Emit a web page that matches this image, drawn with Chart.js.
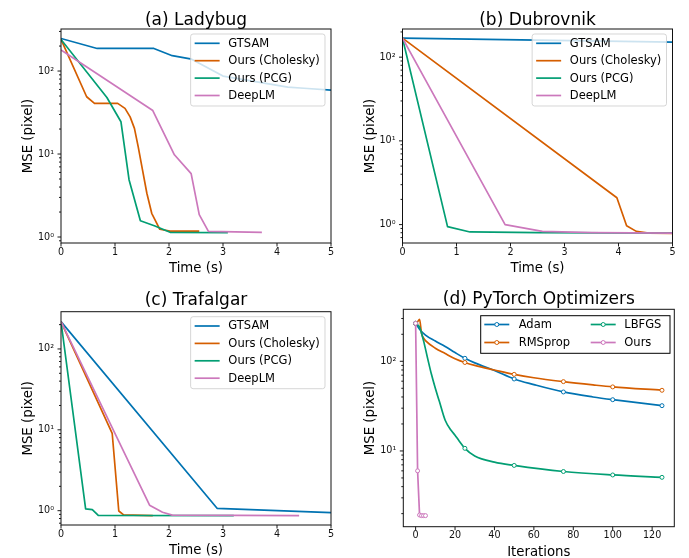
<!DOCTYPE html>
<html><head><meta charset="utf-8">
<script src="https://cdn.jsdelivr.net/npm/chart.js@4"></script>
<style>
html,body{margin:0;padding:0;background:#fff;}
#wrap{position:relative;width:689px;height:558px;overflow:hidden;background:#fff;}
canvas{position:absolute;left:0;top:0;}
</style></head><body><div id="wrap">
<canvas id="ca" width="689" height="558"></canvas>
<canvas id="cb" width="689" height="558"></canvas>
<canvas id="cc" width="689" height="558"></canvas>
<canvas id="cd" width="689" height="558"></canvas>
</div>
<script>
// ---------------- data ----------------
const timeTicks = [0, 1, 2, 3, 4, 5];
const timeTickLabels = ['0', '1', '2', '3', '4', '5'];
const iterTicks = [0, 20, 40, 60, 80, 100, 120];
const iterTickLabels = ['0', '20', '40', '60', '80', '100', '120'];
const logMajorTicks = [1, 10, 100];
const logTickLabels = ['10⁰', '10¹', '10²'];
const methodNames = ['GTSAM', 'Ours (Cholesky)', 'Ours (PCG)', 'DeepLM'];
const optimizerNames = ['Adam', 'RMSprop', 'LBFGS', 'Ours'];

// (a) Ladybug  [time (s), MSE]
const ladybugGTSAM = [[0,247],[0.67,187],[1.72,187],[2.06,153],[2.42,139],[3.0,87],[4.2,64],[4.5,62],[5,59],[5.3,58]];
const ladybugCholesky = [[0,241],[0.475,49],[0.62,40.8],[1.05,40.8],[1.185,35.5],[1.28,28],[1.36,20.4],[1.43,12.2],[1.51,6.4],[1.59,3.37],[1.68,1.93],[1.83,1.24],[2.02,1.18],[2.56,1.18]];
const ladybugPCG = [[0,240],[0.85,48],[1.11,24.5],[1.26,4.9],[1.47,1.57],[1.74,1.36],[2.02,1.14],[3.09,1.13]];
const ladybugDeepLM = [[0,179],[1.70,33.4],[2.10,9.8],[2.41,5.8],[2.56,1.86],[2.73,1.17],[3.72,1.14]];

// (b) Dubrovnik
const dubrovnikGTSAM = [[0,169],[2.5,160],[5,151],[5.3,150]];
const dubrovnikCholesky = [[0,169],[3.97,2.09],[4.15,0.97],[4.33,0.83],[4.56,0.79],[5,0.785]];
const dubrovnikPCG = [[0,169],[0.834,0.946],[1.25,0.817],[2.5,0.80],[5,0.79]];
const dubrovnikDeepLM = [[0,169],[1.90,1.0],[2.59,0.83],[3.5,0.80],[5,0.79]];

// (c) Trafalgar
const trafalgarGTSAM = [[0,218],[2.89,1.07],[5,0.944],[5.3,0.93]];
const trafalgarCholesky = [[0,218],[0.948,9.06],[1.07,0.99],[1.16,0.885],[1.70,0.87]];
const trafalgarPCG = [[0,218],[0.456,1.05],[0.58,1.03],[0.69,0.875],[3.2,0.87]];
const trafalgarDeepLM = [[0,218],[1.64,1.17],[1.88,0.955],[2.06,0.88],[4.41,0.87]];

// (d) PyTorch optimizers  [iteration, MSE]
const adamMSE = [[0,265],[2,228],[5,196],[10,168],[15,146],[20,125],[25,108],[30,96],[40,79],[50,63.5],[60,55],[75,45.5],[90,40],[100,37.3],[125,32]];
const rmspropMSE = [[0,265],[1,275],[2,294],[3,205],[4,182],[5,170],[10,140],[15,122],[20,107],[25,97],[30,90],[40,80],[50,71.5],[60,65.5],[75,59.3],[90,54.5],[100,51.8],[125,47.5]];
const lbfgsMSE = [[0,265],[2,240],[4,170],[6,110],[8,72],[10,50],[12,36],[15,22],[18,17],[20,15],[22,13],[25,10.7],[30,8.8],[40,7.5],[50,6.9],[75,5.9],[100,5.4],[125,5.08]];
const oursMSE = [[0,265],[1,6],[2,1.93],[3,1.9],[4,1.9],[5,1.9]];

// ---------------- styling / layout ----------------
const W = 689, H = 558;
const FAM = '"DejaVu Sans", "Liberation Sans", sans-serif';
const seriesColors = ['#0173B2', '#D55E00', '#029E73', '#CC78BC'];

const panels = [
  { id: 'ca', title: '(a) Ladybug', xLabel: 'Time (s)', area: {L: 61, T: 29, R: 331, B: 243}, titleOff: 4.5,
    xMin: 0, xMax: 5, yMin: 0.847, yMax: 321, xTicks: timeTicks, xTickLabels: timeTickLabels,
    series: [ladybugGTSAM, ladybugCholesky, ladybugPCG, ladybugDeepLM], names: methodNames, legend: 'single' },
  { id: 'cb', title: '(b) Dubrovnik', xLabel: 'Time (s)', area: {L: 402.5, T: 29, R: 672.5, B: 243}, titleOff: 4.5,
    xMin: 0, xMax: 5, yMin: 0.603, yMax: 217, xTicks: timeTicks, xTickLabels: timeTickLabels,
    series: [dubrovnikGTSAM, dubrovnikCholesky, dubrovnikPCG, dubrovnikDeepLM], names: methodNames, legend: 'single' },
  { id: 'cc', title: '(c) Trafalgar', xLabel: 'Time (s)', area: {L: 61, T: 311.7, R: 331, B: 525}, titleOff: 7.2,
    xMin: 0, xMax: 5, yMin: 0.665, yMax: 289, xTicks: timeTicks, xTickLabels: timeTickLabels,
    series: [trafalgarGTSAM, trafalgarCholesky, trafalgarPCG, trafalgarDeepLM], names: methodNames, legend: 'single' },
  { id: 'cd', title: '(d) PyTorch Optimizers', xLabel: 'Iterations', area: {L: 403.3, T: 309.3, R: 674.3, B: 526.7}, titleOff: 5.5,
    xMin: -6.25, xMax: 131.25, yMin: 1.43, yMax: 380, xTicks: iterTicks, xTickLabels: iterTickLabels,
    series: [adamMSE, rmspropMSE, lbfgsMSE, oursMSE], names: optimizerNames, legend: 'double',
    markEvery: [25, 25, 25, 1], smooth: [true, true, true, false] }
];

function logTickList(min, max) {
  const out = [];
  for (let e = -1; e <= 3; e++) {
    for (let m = 1; m < 10; m++) {
      const v = parseFloat((m * Math.pow(10, e)).toPrecision(6));
      if (v >= min && v <= max) out.push(v);
    }
  }
  return out;
}

function roundRect(ctx, x, y, w, h, r) {
  ctx.beginPath();
  ctx.moveTo(x + r, y);
  ctx.lineTo(x + w - r, y); ctx.arcTo(x + w, y, x + w, y + r, r);
  ctx.lineTo(x + w, y + h - r); ctx.arcTo(x + w, y + h, x + w - r, y + h, r);
  ctx.lineTo(x + r, y + h); ctx.arcTo(x, y + h, x, y + h - r, r);
  ctx.lineTo(x, y + r); ctx.arcTo(x, y, x + r, y, r);
  ctx.closePath();
}

function drawLegendSingle(ctx, a, names) {
  ctx.font = '11.5px ' + FAM;
  const tw = Math.max(...names.map(n => ctx.measureText(n).width));
  const w = 37.7 + tw + 5.3, h = 72;
  const right = a.right - 6, top = a.top + 5, left = right - w;
  roundRect(ctx, left, top, w, h, 2.5);
  ctx.fillStyle = 'rgba(255,255,255,0.8)'; ctx.fill();
  ctx.strokeStyle = 'rgba(204,204,204,0.8)'; ctx.lineWidth = 1; ctx.stroke();
  names.forEach((n, i) => {
    const y = top + 9.3 + i * 17.4;
    ctx.strokeStyle = seriesColors[i]; ctx.lineWidth = 1.7;
    ctx.beginPath(); ctx.moveTo(left + 4, y); ctx.lineTo(left + 29, y); ctx.stroke();
    ctx.fillStyle = '#000'; ctx.textAlign = 'left'; ctx.textBaseline = 'middle';
    ctx.fillText(n, left + 37.7, y + 0.5);
  });
}

function drawLegendDouble(ctx, a, names) {
  ctx.font = '11.5px ' + FAM;
  const w = 189.3, h = 37.6;
  const right = a.right - 4.3, top = a.top + 6.4, left = right - w;
  ctx.fillStyle = 'rgba(255,255,255,0.8)'; ctx.fillRect(left, top, w, h);
  ctx.strokeStyle = '#000'; ctx.lineWidth = 1; ctx.strokeRect(left, top, w, h);
  names.forEach((n, i) => {
    const col = Math.floor(i / 2), row = i % 2;
    const lx = left + (col ? 110 : 3.6), tx = left + (col ? 143.6 : 38);
    const y = top + 8.8 + row * 18;
    ctx.strokeStyle = seriesColors[i]; ctx.lineWidth = 1.7;
    ctx.beginPath(); ctx.moveTo(lx, y); ctx.lineTo(lx + 25, y); ctx.stroke();
    ctx.beginPath(); ctx.arc(lx + 12.5, y, 2, 0, Math.PI * 2);
    ctx.fillStyle = '#fff'; ctx.fill(); ctx.lineWidth = 1; ctx.stroke();
    ctx.fillStyle = '#000'; ctx.textAlign = 'left'; ctx.textBaseline = 'middle';
    ctx.fillText(n, tx, y + 0.5);
  });
}

function decorPlugin(spec) {
  return {
    id: 'decor',
    afterDraw(chart) {
      const ctx = chart.ctx, a = chart.chartArea;
      const xs = chart.scales.x, ys = chart.scales.y;
      ctx.save();
      // legend
      if (spec.legend === 'single') drawLegendSingle(ctx, a, spec.names);
      else drawLegendDouble(ctx, a, spec.names);
      // ticks
      ctx.strokeStyle = '#000'; ctx.lineWidth = 0.9;
      ctx.beginPath();
      xs.ticks.forEach(t => {
        const px = xs.getPixelForValue(t.value);
        ctx.moveTo(px, a.bottom); ctx.lineTo(px, a.bottom + 3.5);
      });
      ys.ticks.forEach(t => {
        const py = ys.getPixelForValue(t.value);
        const len = logMajorTicks.includes(t.value) ? 3.5 : 2;
        ctx.moveTo(a.left - len, py); ctx.lineTo(a.left, py);
      });
      ctx.stroke();
      // frame
      ctx.strokeStyle = '#111'; ctx.lineWidth = 1;
      ctx.strokeRect(a.left, a.top, a.right - a.left, a.bottom - a.top);
      // title
      ctx.fillStyle = '#000';
      ctx.textAlign = 'center'; ctx.textBaseline = 'alphabetic';
      ctx.font = '17px ' + FAM;
      ctx.fillText(spec.title, (a.left + a.right) / 2, a.top - spec.titleOff);
      // axis labels
      ctx.font = '13.3px ' + FAM;
      ctx.fillText(spec.xLabel, (a.left + a.right) / 2, a.bottom + 29.3);
      ctx.translate(a.left - 29, (a.top + a.bottom) / 2);
      ctx.rotate(-Math.PI / 2);
      ctx.fillText('MSE (pixel)', 0, 0);
      ctx.restore();
    }
  };
}

function makeChart(spec) {
  const {L, T, R, B} = spec.area;
  const n = spec.series.length;
  const datasets = spec.series.map((pts, i) => {
    const every = spec.markEvery ? spec.markEvery[i] : 0;
    return {
      label: spec.names[i],
      data: pts.map(p => ({x: p[0], y: p[1]})),
      xAxisID: 'x', yAxisID: 'y',
      order: n - i,
      borderColor: seriesColors[i],
      backgroundColor: '#fff',
      borderWidth: 1.7,
      borderJoinStyle: 'round',
      fill: false,
      tension: 0,
      cubicInterpolationMode: (spec.smooth && spec.smooth[i]) ? 'monotone' : 'default',
      pointRadius: every ? (c => (c.raw && Math.abs(c.raw.x % every) < 1e-9) ? 2 : 0) : 0,
      pointHoverRadius: 0,
      pointBorderWidth: 1,
      pointBackgroundColor: '#fff',
      pointBorderColor: seriesColors[i]
    };
  });
  const tickFont = {family: FAM, size: 9.6};
  return new Chart(document.getElementById(spec.id), {
    type: 'line',
    data: {datasets},
    options: {
      responsive: false, animation: false, events: [],
      devicePixelRatio: 1,
      layout: {padding: 0},
      plugins: {legend: {display: false}, tooltip: {enabled: false}, title: {display: false}},
      scales: {
        x: {
          type: 'linear', position: 'bottom', min: spec.xMin, max: spec.xMax, bounds: 'data',
          afterBuildTicks: s => { s.ticks = spec.xTicks.map(v => ({value: v})); },
          afterFit: s => { s.height = H - B; },
          grid: {display: false, drawTicks: false}, border: {display: false},
          ticks: {padding: 3.5, color: '#111', font: tickFont, maxRotation: 0, minRotation: 0, autoSkip: false,
            callback: v => { const k = spec.xTicks.indexOf(v); return k >= 0 ? spec.xTickLabels[k] : ''; }}
        },
        y: {
          type: 'logarithmic', position: 'left', min: spec.yMin, max: spec.yMax, bounds: 'data',
          afterBuildTicks: s => { s.ticks = logTickList(spec.yMin, spec.yMax).map(v => ({value: v})); },
          afterFit: s => { s.width = L; },
          grid: {display: false, drawTicks: false}, border: {display: false},
          ticks: {padding: 7, color: '#111', font: tickFont, autoSkip: false,
            callback: v => { const k = logMajorTicks.indexOf(v); return k >= 0 ? logTickLabels[k] : ''; }}
        },
        x2: {
          type: 'linear', position: 'top', display: true,
          ticks: {display: false}, grid: {display: false, drawTicks: false}, border: {display: false},
          afterFit: s => { s.height = T; }
        },
        y2: {
          type: 'linear', position: 'right', display: true,
          ticks: {display: false}, grid: {display: false, drawTicks: false}, border: {display: false},
          afterFit: s => { s.width = W - R; }
        }
      }
    },
    plugins: [decorPlugin(spec)]
  });
}

panels.forEach(makeChart);
</script>
</body></html>
